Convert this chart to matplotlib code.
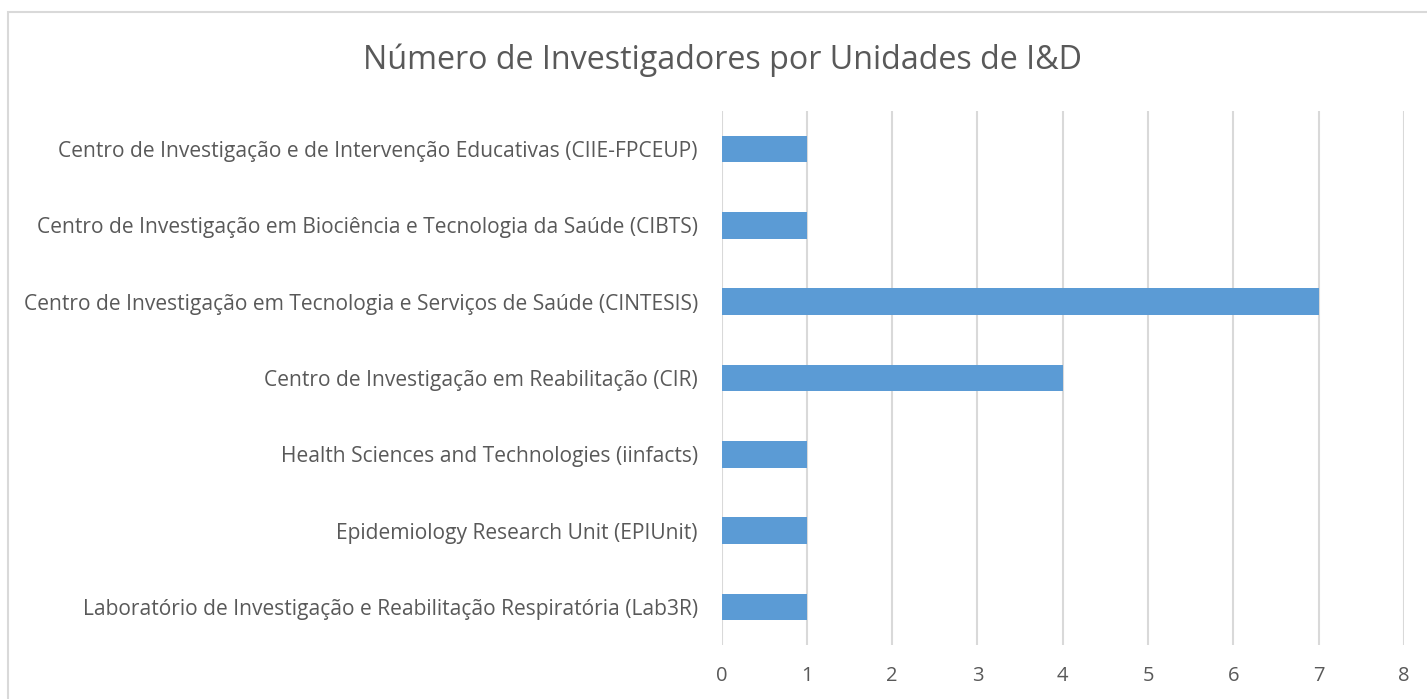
import matplotlib
matplotlib.use("Agg")
import matplotlib.pyplot as plt
from matplotlib.patches import Rectangle

categories = [
    "Centro de Investigação e de Intervenção Educativas (CIIE-FPCEUP)",
    "Centro de Investigação em Biociência e Tecnologia da Saúde (CIBTS)",
    "Centro de Investigação em Tecnologia e Serviços de Saúde (CINTESIS)",
    "Centro de Investigação em Reabilitação (CIR)",
    "Health Sciences and Technologies (iinfacts)",
    "Epidemiology Research Unit (EPIUnit)",
    "Laboratório de Investigação e Reabilitação Respiratória (Lab3R)",
]
values = [1, 1, 7, 4, 1, 1, 1]
x_ticks = [0, 1, 2, 3, 4, 5, 6, 7, 8]
title = "Número de Investigadores por Unidades de I&D"

W, H = 1427, 699
plt.rcParams['font.family'] = ['Open Sans', 'DejaVu Sans']
fig = plt.figure(figsize=(W / 100, H / 100), dpi=100)
fig.patch.set_facecolor('white')

# outer chart border (cut off on right/bottom)
fig.patches.append(Rectangle((8 / W, -0.1), 1.2, (H - 12) / H + 0.1,
                             transform=fig.transFigure, fill=False,
                             edgecolor='#d9d9d9', linewidth=1.5))

ax = fig.add_axes([721.5 / W, (H - 645) / H, (1404 - 721.5) / W, (645 - 111) / H])
ypos = list(range(len(categories)))
ax.barh(ypos, values, height=0.35, color='#5b9bd5', zorder=3)
ax.set_ylim(len(categories) - 0.5, -0.5)
ax.set_xlim(0, 8)
ax.set_xticks(x_ticks)
ax.set_yticks(ypos)
ax.set_yticklabels(categories)
ax.tick_params(axis='both', length=0, colors='#595959')
ax.tick_params(axis='y', pad=17, labelsize=15.1)
ax.tick_params(axis='x', pad=15, labelsize=14.5)
ax.xaxis.grid(True, color='#d9d9d9', linewidth=1.5, zorder=0)
for s in ax.spines.values():
    s.set_visible(False)

fig.text(722.5 / W, (H - 60) / H, title, ha='center', va='center',
         fontsize=23.2, color='#595959')

fig.savefig("out.png", dpi=100, facecolor='white')
